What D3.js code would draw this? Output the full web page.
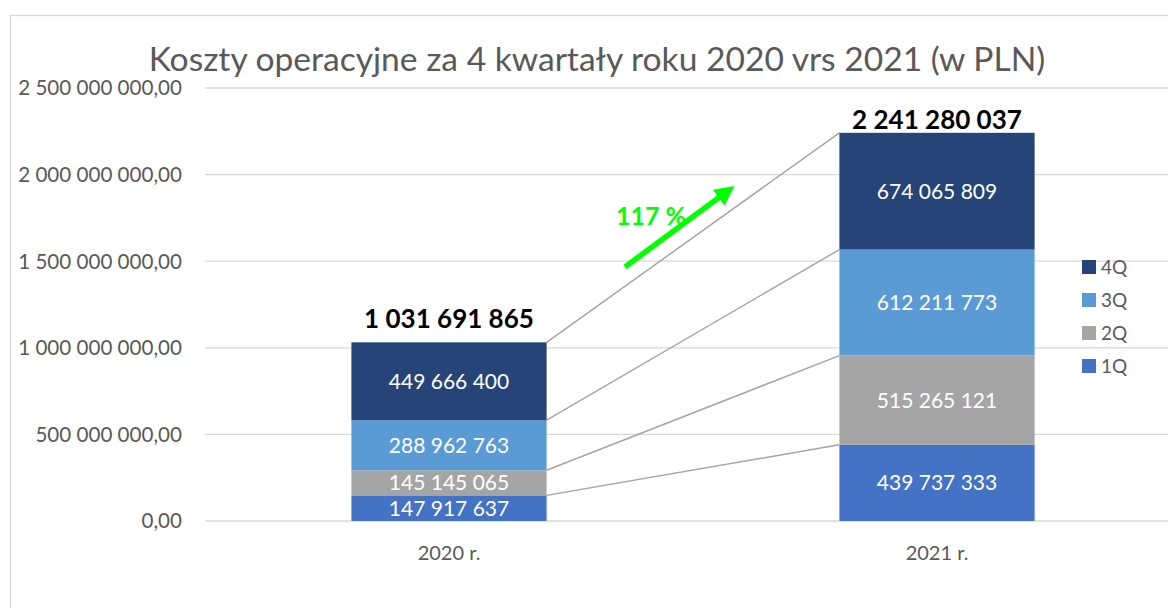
<!DOCTYPE html>
<html>
<head>
<meta charset="utf-8">
<script src="https://cdn.jsdelivr.net/npm/d3@7"></script>
<style>
  body { margin: 0; background: #fff; }
  text { font-family: Lato, "Open Sans", sans-serif; }
</style>
</head>
<body>
<div id="chart"></div>
<script>
// chart data
const years = ["2020 r.", "2021 r."];
const quarters = ["1Q", "2Q", "3Q", "4Q"];
const q1 = [147917637, 439737333];
const q2 = [145145065, 515265121];
const q3 = [288962763, 612211773];
const q4 = [449666400, 674065809];
const totals = [1031691865, 2241280037]; // as shown in the sheet (rounded sums)
const yTicks = [0, 500000000, 1000000000, 1500000000, 2000000000, 2500000000];
const growthLabel = "117 %";
const title = "Koszty operacyjne za 4 kwartały roku 2020 vrs 2021 (w PLN)";

const colors = { "1Q": "#4472C4", "2Q": "#A5A5A5", "3Q": "#5B9BD5", "4Q": "#264478" };

const W = 1168, H = 608;
const svg = d3.select("#chart").append("svg")
  .attr("width", W).attr("height", H);

// chart border
svg.append("rect")
  .attr("x", 10.5).attr("y", 15.5)
  .attr("width", W + 20).attr("height", H + 20)
  .attr("fill", "none").attr("stroke", "#D9D9D9").attr("stroke-width", 1.3);

const pl = d3.formatLocale({ decimal: ",", thousands: " ", grouping: [3], currency: ["", ""] });
const fmtAxis = pl.format(",.2f");
const fmtVal = pl.format(",d");

const x = d3.scaleBand().domain(years).range([205, 1181]).paddingInner(0.6).paddingOuter(0.3);
const y = d3.scaleLinear().domain([0, 2500000000]).range([521, 88]);

// build stacked table
const table = years.map((yr, i) => ({ year: yr, total: totals[i], "1Q": q1[i], "2Q": q2[i], "3Q": q3[i], "4Q": q4[i] }));
const series = d3.stack().keys(quarters)(table);

// gridlines
svg.append("g").selectAll("line").data(yTicks).join("line")
  .attr("x1", 205).attr("x2", W)
  .attr("y1", d => y(d)).attr("y2", d => y(d))
  .attr("stroke", "#D9D9D9").attr("stroke-width", 1.3);

// y axis labels
svg.append("g").selectAll("text").data(yTicks).join("text")
  .attr("x", 182).attr("y", d => y(d)).attr("dy", "0.36em")
  .attr("text-anchor", "end").attr("font-size", 20.6).attr("fill", "#595959")
  .text(d => fmtAxis(d));

// series lines between stacks
const bw = x.bandwidth();
svg.append("g").selectAll("line").data(series).join("line")
  .attr("x1", x(years[0]) + bw).attr("y1", s => y(s[0][1]))
  .attr("x2", x(years[1])).attr("y2", s => y(s[1][1]))
  .attr("stroke", "#A5A5A5").attr("stroke-width", 1.5);

// bars
const layer = svg.append("g").selectAll("g").data(series).join("g")
  .attr("fill", s => colors[s.key]);
layer.selectAll("rect").data(s => s).join("rect")
  .attr("x", d => x(d.data.year)).attr("width", bw)
  .attr("y", d => y(d[1])).attr("height", d => y(d[0]) - y(d[1]));

// segment labels
layer.selectAll("text").data(s => s).join("text")
  .attr("x", d => x(d.data.year) + bw / 2)
  .attr("y", d => (y(d[0]) + y(d[1])) / 2).attr("dy", "0.36em")
  .attr("text-anchor", "middle").attr("font-size", 21).attr("fill", "#fff")
  .text(d => fmtVal(d[1] - d[0]));

// totals
svg.append("g").selectAll("text").data(table).join("text")
  .attr("x", d => x(d.year) + bw / 2)
  .attr("y", d => Math.max(y(d.total) - 14, 129))
  .attr("text-anchor", "middle").attr("font-size", 26).attr("font-weight", "bold").attr("fill", "#000")
  .text(d => fmtVal(d.total));

// x axis labels
svg.append("g").selectAll("text").data(years).join("text")
  .attr("x", d => x(d) + bw / 2).attr("y", 560)
  .attr("text-anchor", "middle").attr("font-size", 20).attr("fill", "#595959")
  .text(d => d);

// title
svg.append("text")
  .attr("x", 597).attr("y", 71)
  .attr("text-anchor", "middle").attr("font-size", 33.6).attr("fill", "#595959")
  .text(title);

// growth arrow annotation
const defs = svg.append("defs");
defs.append("marker").attr("id", "arr")
  .attr("viewBox", "0 0 10 10").attr("refX", 4).attr("refY", 5)
  .attr("markerWidth", 3.6).attr("markerHeight", 3.6).attr("orient", "auto")
  .append("path").attr("d", "M0,0L10,5L0,10z").attr("fill", "#00FF00");
svg.append("line")
  .attr("x1", 625).attr("y1", 267).attr("x2", 725).attr("y2", 193)
  .attr("stroke", "#00FF00").attr("stroke-width", 5.5)
  .attr("marker-end", "url(#arr)");
svg.append("text")
  .attr("x", 616).attr("y", 225)
  .attr("font-size", 25).attr("font-weight", "bold").attr("fill", "#00FF00")
  .text(growthLabel);

// legend
const legend = svg.append("g").selectAll("g").data(quarters.slice().reverse()).join("g")
  .attr("transform", (d, i) => `translate(1082,${267 + i * 33})`);
legend.append("rect").attr("x", 0).attr("y", -7).attr("width", 14).attr("height", 14)
  .attr("fill", d => colors[d]);
legend.append("text").attr("x", 19).attr("dy", "0.36em")
  .attr("font-size", 19).attr("fill", "#595959").text(d => d);
</script>
</body>
</html>
